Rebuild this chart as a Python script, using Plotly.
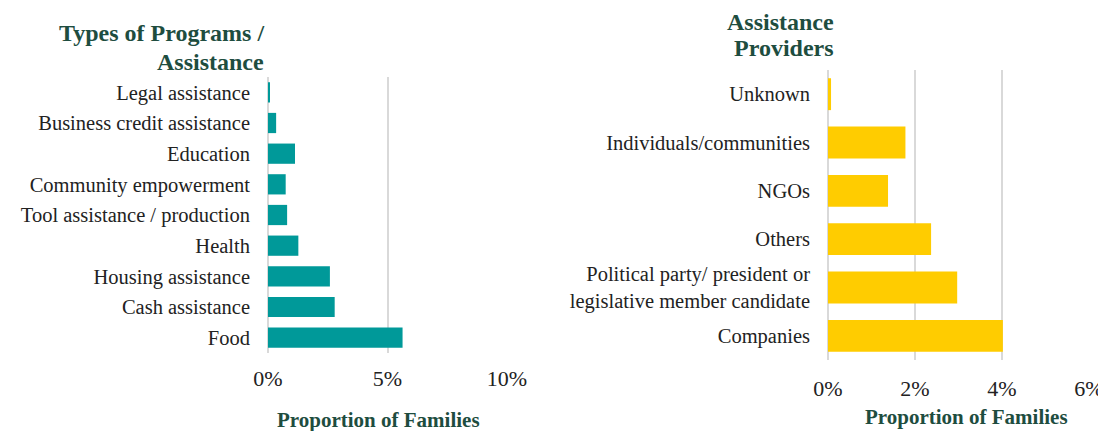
import plotly.graph_objects as go

# Data
program_types = ["Legal assistance", "Business credit assistance", "Education",
                 "Community empowerment", "Tool assistance / production", "Health",
                 "Housing assistance", "Cash assistance", "Food"]
program_values = [0.0008, 0.0034, 0.0113, 0.0074, 0.0080, 0.0127, 0.0259, 0.0279, 0.0563]

providers = ["Unknown", "Individuals/communities", "NGOs", "Others",
             "Political party/ president or<br>legislative member candidate", "Companies"]
provider_values = [0.0007, 0.0178, 0.0138, 0.0237, 0.0297, 0.0402]

left_ticks = [0, 0.05, 0.10]
left_ticklabels = ["0%", "5%", "10%"]
right_ticks = [0, 0.02, 0.04, 0.06]
right_ticklabels = ["0%", "2%", "4%", "6%"]

OFF = 8  # page body margin
W, H = 1106 - OFF, 431 - OFF
FONT = "Liberation Serif"
GREEN = "#1E4D3F"
GRID = "#D9D9D9"
TXT = "#222222"


def px(x):
    return (x - OFF) / W


def py(y):
    return 1 - (y - OFF) / H


fig = go.Figure()
fig.add_trace(go.Bar(x=program_values, y=program_types, orientation="h",
                     marker=dict(color="#009999", line=dict(width=0)),
                     xaxis="x", yaxis="y"))
fig.add_trace(go.Bar(x=provider_values, y=providers, orientation="h",
                     marker=dict(color="#FFCC00", line=dict(width=0)),
                     xaxis="x2", yaxis="y2"))

xcommon = dict(showgrid=True, gridcolor=GRID, gridwidth=2, zeroline=True,
               zerolinecolor=GRID, zerolinewidth=2, showline=False, ticks="",
               automargin=False, fixedrange=True,
               tickfont=dict(family=FONT, size=22, color=TXT))
ycommon = dict(autorange="reversed", showgrid=False, showline=False, zeroline=False,
               ticks="", automargin=False, fixedrange=True, ticklabelstandoff=17,
               tickfont=dict(family=FONT, size=20.5, color=TXT))

fig.update_layout(
    width=W, height=H, margin=dict(l=0, r=0, t=0, b=0, pad=0),
    paper_bgcolor="white", plot_bgcolor="white", showlegend=False,
    bargap=0.34,
    font=dict(family=FONT, color=TXT),
    xaxis=dict(domain=[px(268), px(507)], range=[0, 0.10], anchor="y",
               tickvals=left_ticks, ticktext=left_ticklabels, ticklabelstandoff=10,
               **xcommon),
    yaxis=dict(domain=[py(353), py(77)], anchor="x", **ycommon),
    xaxis2=dict(domain=[px(828), px(1089)], range=[0, 0.06], anchor="y2",
                tickvals=right_ticks, ticktext=right_ticklabels, ticklabelstandoff=13,
                **xcommon),
    yaxis2=dict(domain=[py(360), py(70)], anchor="x2", **ycommon),
)

title_font = dict(family=FONT, size=24, color=GREEN)
titles = [("<b>Types of Programs /</b>", 266, 32.5), ("<b>Assistance</b>", 266, 61.5),
          ("<b>Assistance</b>", 836, 22), ("<b>Providers</b>", 836, 48.5)]
for txt, xr, yc in titles:
    fig.add_annotation(x=px(xr), y=py(yc), xref="paper", yref="paper", xanchor="right",
                       yanchor="middle", align="right", showarrow=False,
                       text=txt, font=title_font)

axis_title_font = dict(family=FONT, size=21, color=GREEN)
for xc, yc in [(378.5, 420), (966, 416.5)]:
    fig.add_annotation(x=px(xc), y=py(yc), xref="paper", yref="paper", xanchor="center",
                       yanchor="middle", showarrow=False,
                       text="<b>Proportion of Families</b>", font=axis_title_font)

fig.write_html("out.html")
